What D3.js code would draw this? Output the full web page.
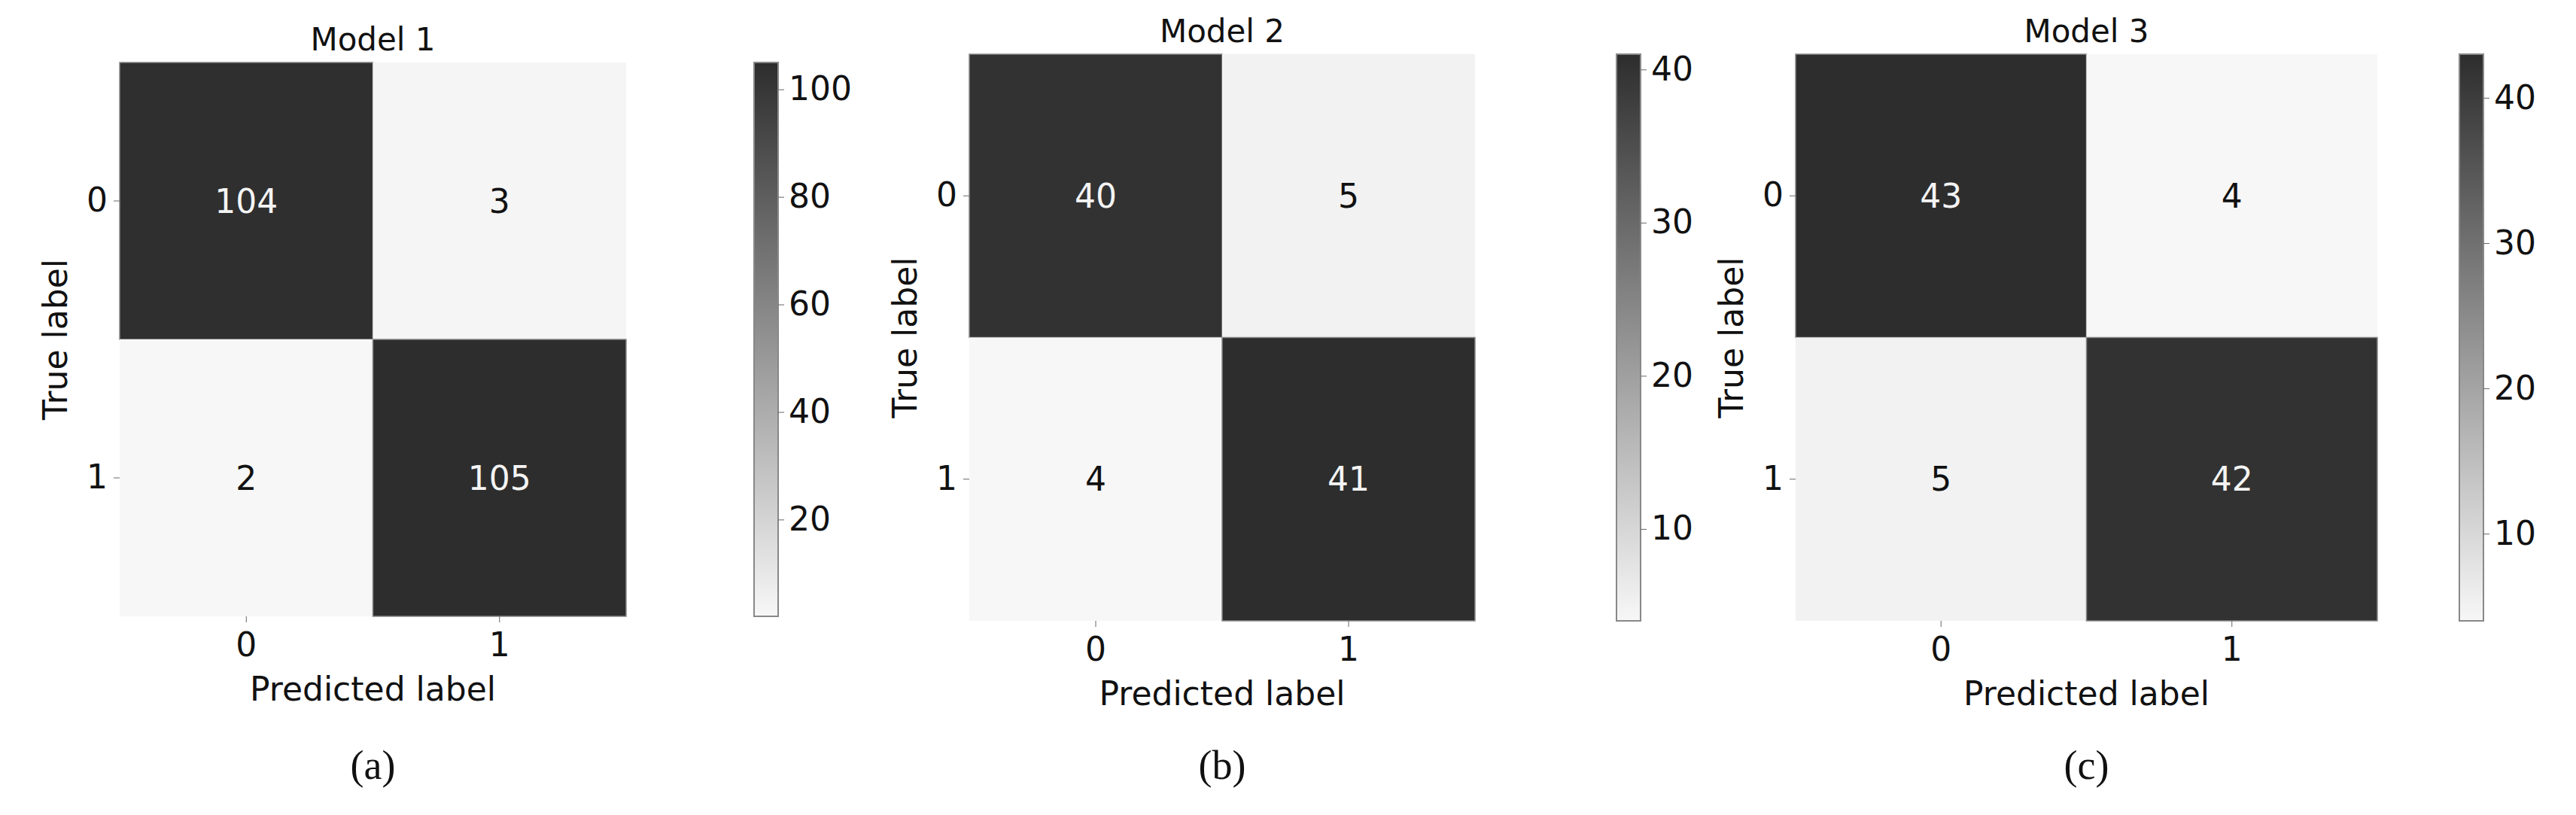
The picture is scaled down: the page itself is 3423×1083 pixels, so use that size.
<!DOCTYPE html>
<html>
<head>
<meta charset="utf-8">
<script src="https://cdn.jsdelivr.net/npm/d3@7"></script>
<style>
  body { margin: 0; background: #fff; }
  text { font-family: "DejaVu Sans", sans-serif; fill: #111; }
</style>
</head>
<body>
<script>
const classes = ["0", "1"]
const titles = ["Model 1", "Model 2", "Model 3"]
const captions = ["(a)", "(b)", "(c)"]
// confusion matrices, row = true label, col = predicted label
const model1 = [[104, 3], [2, 105]]
const model2 = [[40, 5], [4, 41]]
const model3 = [[43, 4], [5, 42]]
const cbTicks1 = [20, 40, 60, 80, 100]
const cbTicks2 = [10, 20, 30, 40]
const cbTicks3 = [10, 20, 30, 40]

const width = 3423, height = 1083
const svg = d3.select("body").append("svg")
    .attr("width", width).attr("height", height)

const panels = [
  { m: model1, ticks: cbTicks1, x0: 159, x1: 832, y0: 83, y1: 819, cb: 1002 },
  { m: model2, ticks: cbTicks2, x0: 1288, x1: 1960, y0: 72, y1: 825, cb: 2148 },
  { m: model3, ticks: cbTicks3, x0: 2386, x1: 3159, y0: 72, y1: 825, cb: 3268 }
]

const fs = 44

panels.forEach((p, i) => {
  const g = svg.append("g")
  const vals = p.m.flat()
  const vmin = d3.min(vals), vmax = d3.max(vals)
  const color = d3.scaleLinear().domain([vmin, vmax]).range(["#f7f7f7", "#2d2d2d"])

  const x = d3.scaleBand().domain(classes).range([p.x0, p.x1])
  const y = d3.scaleBand().domain(classes).range([p.y0, p.y1])

  const cells = []
  p.m.forEach((row, r) => row.forEach((v, c) => cells.push({ r: classes[r], c: classes[c], v })))

  g.selectAll("rect.cell").data(cells).join("rect")
      .attr("x", d => x(d.c)).attr("y", d => y(d.r))
      .attr("width", x.bandwidth()).attr("height", y.bandwidth())
      .attr("fill", d => color(d.v))
      .attr("stroke", d => d.v > (vmin + vmax) / 2 ? "#888" : "none")
      .attr("stroke-width", 1.5)

  const mid = (vmin + vmax) / 2
  g.selectAll("text.val").data(cells).join("text")
      .attr("x", d => x(d.c) + x.bandwidth() / 2)
      .attr("y", d => y(d.r) + y.bandwidth() / 2)
      .attr("text-anchor", "middle").attr("dominant-baseline", "central")
      .attr("font-size", fs)
      .style("fill", d => d.v > mid ? "#f4f4f4" : "#111")
      .text(d => d.v)

  const xAxis = g.append("g")
      .attr("transform", `translate(0,${p.y1})`)
      .call(d3.axisBottom(x).tickSize(8).tickPadding(14))
  const yAxis = g.append("g")
      .attr("transform", `translate(${p.x0},0)`)
      .call(d3.axisLeft(y).tickSize(8).tickPadding(8))
  ;[xAxis, yAxis].forEach(a => {
    a.select(".domain").remove()
    a.selectAll("line").attr("stroke", "#666")
    a.selectAll("text").attr("font-size", fs).style("fill", "#111")
  })

  const cx = (p.x0 + p.x1) / 2, cy = (p.y0 + p.y1) / 2
  g.append("text").attr("x", cx).attr("y", p.y0 - 16)
      .attr("text-anchor", "middle").attr("font-size", 42).text(titles[i])
  g.append("text").attr("x", cx).attr("y", p.y1 + 112)
      .attr("text-anchor", "middle").attr("font-size", fs).text("Predicted label")
  g.append("text")
      .attr("transform", `translate(${p.x0 - 70},${cy}) rotate(-90)`)
      .attr("text-anchor", "middle").attr("font-size", fs).text("True label")
  g.append("text").attr("x", cx).attr("y", 1035)
      .attr("text-anchor", "middle").attr("font-size", 54)
      .style("font-family", "'Liberation Serif', serif").text(captions[i])

  // colorbar
  const cbw = 32
  const cbScale = d3.scaleLinear().domain([vmin, vmax]).range([p.y1, p.y0])
  const gid = "grad" + i
  const grad = svg.append("defs").append("linearGradient")
      .attr("id", gid).attr("x1", 0).attr("y1", 1).attr("x2", 0).attr("y2", 0)
  grad.append("stop").attr("offset", 0).attr("stop-color", color(vmin))
  grad.append("stop").attr("offset", 1).attr("stop-color", color(vmax))
  g.append("rect").attr("x", p.cb).attr("y", p.y0)
      .attr("width", cbw).attr("height", p.y1 - p.y0)
      .attr("fill", `url(#${gid})`).attr("stroke", "#888").attr("stroke-width", 2)
  const cbAxis = g.append("g")
      .attr("transform", `translate(${p.cb + cbw},0)`)
      .call(d3.axisRight(cbScale).tickValues(p.ticks).tickSize(8).tickPadding(6))
  cbAxis.select(".domain").remove()
  cbAxis.selectAll("line").attr("stroke", "#666")
  cbAxis.selectAll("text").attr("font-size", fs).style("fill", "#111")
})
</script>
</body>
</html>
